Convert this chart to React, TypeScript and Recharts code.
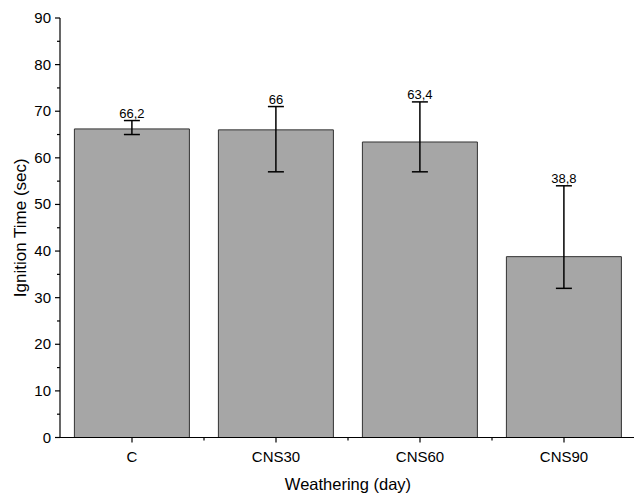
import React from 'react';
import { BarChart, Bar, XAxis, YAxis, ErrorBar, LabelList } from 'recharts';

const categories = ['C', 'CNS30', 'CNS60', 'CNS90'];
const means = [66.2, 66, 63.4, 38.8];
const lowerBounds = [65, 57, 57, 32];
const upperBounds = [68, 71, 72, 54];
const valueLabels = ['66,2', '66', '63,4', '38,8'];
const yTicks = [0, 5, 10, 15, 20, 25, 30, 35, 40, 45, 50, 55, 60, 65, 70, 75, 80, 85, 90];

const data = categories.map((c, i) => ({
  name: c,
  mean: means[i],
  err: [means[i] - lowerBounds[i], upperBounds[i] - means[i]],
}));

const FONT = '"Liberation Sans", Arial, sans-serif';

const YTick = (props: any) => {
  const { x, y, payload } = props;
  const major = payload.value % 10 === 0;
  return (
    <g>
      <line x1={x} x2={x - (major ? 5 : 3)} y1={y} y2={y} stroke="#000" strokeWidth={1.2} />
      {major && (
        <text x={x - 9} y={y} dy={5} textAnchor="end" fontSize={15} fontFamily={FONT} fill="#000">
          {payload.value}
        </text>
      )}
    </g>
  );
};

const XTick = (props: any) => {
  const { x, y, payload } = props;
  const half = payload.offset || 72;
  return (
    <g>
      <line x1={x} x2={x} y1={y} y2={y + 5} stroke="#000" strokeWidth={1.2} />
      <line x1={x + half} x2={x + half} y1={y} y2={y + 3} stroke="#000" strokeWidth={1.2} />
      <text x={x} y={y + 24} textAnchor="middle" fontSize={15} fontFamily={FONT} fill="#000">
        {payload.value}
      </text>
    </g>
  );
};

const ValueLabel = (props: any) => {
  const vb = props.viewBox || props;
  const x = vb.x ?? props.x;
  const y = vb.y ?? props.y;
  const w = vb.width ?? props.width;
  const h = vb.height ?? props.height;
  const i = props.index;
  const pxPerUnit = h / means[i];
  const errTop = y - (upperBounds[i] - means[i]) * pxPerUnit;
  return (
    <text x={x + w / 2} y={errTop - 3} textAnchor="middle" fontSize={13} fontFamily={FONT} fill="#000">
      {valueLabels[i]}
    </text>
  );
};

export default function App() {
  return (
    <div style={{ position: 'absolute', left: 0, top: 0, width: 634, height: 495, overflow: 'hidden', background: '#fff' }}>
      <BarChart
        width={640}
        height={495}
        data={data}
        margin={{ top: 18, right: 4, left: 0, bottom: 27.5 }}
        barCategoryGap="10%"
      >
        <XAxis
          dataKey="name"
          height={30}
          tickSize={0}
          tickMargin={0}
          tick={<XTick />}
          axisLine={{ stroke: '#000', strokeWidth: 1.2 }}
          label={{ value: 'Weathering (day)', position: 'insideBottom', offset: -22, fontSize: 16.5, fontFamily: FONT, fill: '#000' }}
        />
        <YAxis
          width={60}
          domain={[0, 90]}
          ticks={yTicks}
          interval={0}
          tickSize={0}
          tickMargin={0}
          tick={<YTick />}
          axisLine={{ stroke: '#000', strokeWidth: 1.2 }}
          label={{ value: 'Ignition Time (sec)', angle: -90, position: 'center', dx: -10, fontSize: 17, fontFamily: FONT, fill: '#000' }}
        />
        <Bar dataKey="mean" fill="#a6a6a6" stroke="#333" strokeWidth={1} isAnimationActive={false}>
          <ErrorBar dataKey="err" width={8} stroke="#000" strokeWidth={1.5} />
          <LabelList dataKey="mean" content={<ValueLabel />} />
        </Bar>
      </BarChart>
    </div>
  );
}
